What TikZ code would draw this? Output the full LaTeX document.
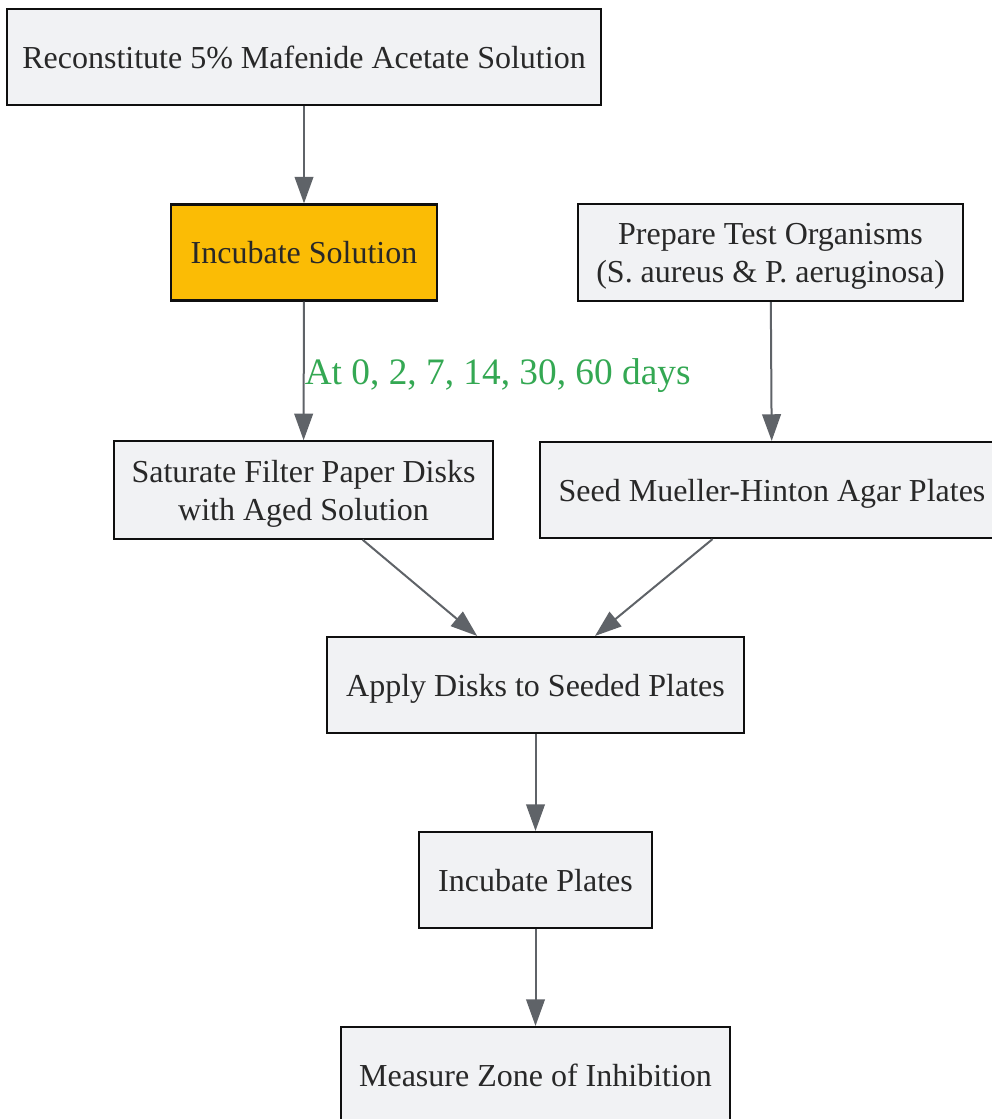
\documentclass[tikz,border=0pt]{standalone}
\usepackage{fontspec}
\setmainfont{Liberation Serif}
\usepackage{tikz}
\usetikzlibrary{arrows.meta, positioning}
\definecolor{boxfill}{RGB}{241,242,244}
\definecolor{boxline}{RGB}{15,15,15}
\definecolor{boxtext}{RGB}{40,40,40}
\definecolor{myyellow}{RGB}{251,188,5}
\definecolor{mygreen}{RGB}{52,168,83}
\definecolor{mygray}{RGB}{95,99,104}
\tikzset{
  stepbox/.style={rectangle, draw=boxline, fill=boxfill, line width=1.6pt,
    minimum height=72pt, align=center, text=boxtext, inner sep=0pt,
    text depth=0pt, font=\fontsize{24}{28.5}\selectfont},
  hotbox/.style={stepbox, fill=myyellow},
  arrow/.style={-{Triangle[length=20pt,width=14pt]}, line width=1.5pt, color=mygray},
  edgelabel/.style={anchor=west, inner sep=0pt, text=mygreen, yshift=-3.5pt,
    font=\fontsize{28}{32}\selectfont}
}
\begin{document}
\begin{tikzpicture}[x=0.75pt, y=-0.75pt]
  \useasboundingbox (0,0) rectangle (991,1119);

  % Left branch: solution
  \node[stepbox, minimum width=445.5pt] (recon) at (304,57) {Reconstitute 5\% Mafenide Acetate Solution};
  \node[hotbox, minimum width=199.5pt] (incsol) at (304,252.5) {Incubate Solution};
  \node[stepbox, minimum width=284.25pt, minimum height=73pt] (disks) at (303.5,490) {Saturate Filter Paper Disks\\with Aged Solution};

  % Right branch: organisms
  \node[stepbox, minimum width=288.75pt, minimum height=73pt] (prep) at (770.5,252.5) {Prepare Test Organisms\\(S. aureus \& P. aeruginosa)};
  \node[stepbox, minimum width=348pt] (seed) at (772,490) {Seed Mueller-Hinton Agar Plates};

  % Joined steps
  \node[stepbox, minimum width=312.75pt] (apply) at (535.5,685) {Apply Disks to Seeded Plates};
  \node[stepbox, minimum width=174.75pt] (incplates) at (535.5,880) {Incubate Plates};
  \node[stepbox, minimum width=291.75pt] (measure) at (535.5,1075) {Measure Zone of Inhibition};

  % Arrows
  \draw[arrow] (recon) -- (incsol);
  \draw[arrow] (incsol) -- node[edgelabel] {At 0, 2, 7, 14, 30, 60 days} (disks);
  \draw[arrow] (prep) -- (seed);
  \draw[arrow] (disks) -- (apply);
  \draw[arrow] (seed) -- (apply);
  \draw[arrow] (apply) -- (incplates);
  \draw[arrow] (incplates) -- (measure);
\end{tikzpicture}
\end{document}
